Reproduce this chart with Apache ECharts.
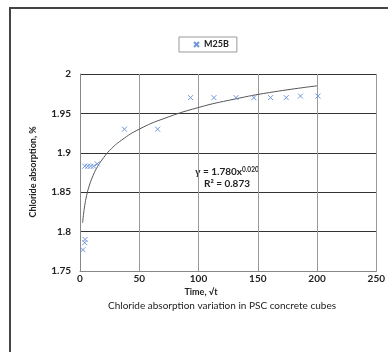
<!DOCTYPE html>
<html>
<head>
<meta charset="utf-8">
<script src="https://cdn.jsdelivr.net/npm/echarts@6/dist/echarts.min.js"></script>
<style>html,body{margin:0;padding:0;background:#fff;}#c{width:388px;height:352px;}</style>
</head>
<body>
<div id="c"></div>
<script>
// Measured data points (M25B)
var timeX = [2.5, 4, 4.3, 4, 6.5, 9, 11.5, 14.5, 37.5, 65.5, 93.3, 113, 131.7, 146.7, 160.8, 174, 186, 200.8];
var absorption = [1.777, 1.786, 1.79, 1.883, 1.883, 1.883, 1.883, 1.886, 1.93, 1.93, 1.97, 1.97, 1.97, 1.97, 1.97, 1.97, 1.972, 1.972];
// Trend curve
var trendX = [2.2, 3, 4, 5.6, 8, 11, 15, 20, 25, 35, 50, 70, 100, 130, 160, 200];
var trendY = [1.811, 1.8225, 1.833, 1.846, 1.859, 1.871, 1.883, 1.894, 1.903, 1.916, 1.930, 1.943, 1.9575, 1.968, 1.9765, 1.985];
var xTicks = [0, 50, 100, 150, 200, 250];
var yTicks = [1.75, 1.8, 1.85, 1.9, 1.95, 2];

var pts = timeX.map(function (x, i) { return [x, absorption[i]]; });
var trend = trendX.map(function (x, i) { return [x, trendY[i]]; });
var FONT = 'Lato';
var chart = echarts.init(document.getElementById('c'));
chart.setOption({
  animation: false,
  textStyle: { fontFamily: FONT },
  grid: { left: 80, top: 74, width: 299, height: 197, containLabel: false },
  legend: {
    left: 179, top: 37,
    padding: [3, 8, 3, 14],
    itemWidth: 5, itemHeight: 5,
    borderColor: '#999', borderWidth: 1,
    data: ['M25B'],
    textStyle: { fontFamily: FONT, fontSize: 9, fontWeight: 'bold', color: '#222' }
  },
  xAxis: {
    type: 'value', min: xTicks[0], max: xTicks[xTicks.length - 1], interval: 50,
    axisLine: { show: true, lineStyle: { color: '#888', width: 1 } },
    axisTick: { show: false },
    axisLabel: { margin: 3, fontSize: 10, fontWeight: 'bold', color: '#222', fontFamily: FONT },
    splitLine: { show: true, lineStyle: { color: '#999', width: 1 } }
  },
  yAxis: {
    type: 'value', min: yTicks[0], max: yTicks[yTicks.length - 1], interval: 0.05,
    axisLine: { show: true, lineStyle: { color: '#888', width: 1 } },
    axisTick: { show: false },
    axisLabel: { margin: 9, fontSize: 10, fontWeight: 'bold', color: '#222', fontFamily: FONT },
    splitLine: { show: true, lineStyle: { color: '#333', width: 1.2 } }
  },
  series: [
    {
      name: 'M25B', type: 'scatter', data: pts,
      symbol: 'path://M0,0L10,10M10,0L0,10', symbolSize: 5,
      itemStyle: { color: 'rgba(0,0,0,0)', borderColor: '#6f96dc', borderWidth: 1, opacity: 1 },
      z: 3
    },
    {
      name: 'trend', type: 'line', data: trend, smooth: true, showSymbol: false,
      lineStyle: { color: '#555', width: 1 }, z: 2, silent: true
    }
  ],
  graphic: [
    { type: 'rect', shape: { x: 10, y: 8, width: 420, height: 400 }, style: { fill: 'none', stroke: '#444', lineWidth: 2 } },
    { type: 'text', x: 33, y: 172, rotation: Math.PI / 2,
      style: { text: 'Chloride absorption, %', fontFamily: FONT, fontSize: 9, fontWeight: 'bold', fill: '#222', align: 'center', verticalAlign: 'middle' } },
    { type: 'text', x: 201, y: 292,
      style: { text: 'Time, \u221At', fontFamily: FONT, fontSize: 9, fontWeight: 'bold', fill: '#222', align: 'center', verticalAlign: 'middle' } },
    { type: 'text', x: 222, y: 306,
      style: { text: 'Chloride absorption variation in PSC concrete cubes', fontFamily: FONT, fontSize: 10, fill: '#222', align: 'center', verticalAlign: 'middle' } },
    { type: 'text', x: 227, y: 172,
      style: { text: '{a|y = 1.780x}{s|0.020}', align: 'center', verticalAlign: 'middle',
        rich: { a: { fontFamily: FONT, fontSize: 10, fontWeight: 'bold', fill: '#222', lineHeight: 12 },
                s: { fontFamily: FONT, fontSize: 6.5, fontWeight: 'bold', fill: '#222', verticalAlign: 'top', padding: [0, 0, 5, 0] } } } },
    { type: 'text', x: 227, y: 184,
      style: { text: 'R\u00B2 = 0.873', fontFamily: FONT, fontSize: 10, fontWeight: 'bold', fill: '#222', align: 'center', verticalAlign: 'middle' } }
  ]
});
</script>
</body>
</html>
